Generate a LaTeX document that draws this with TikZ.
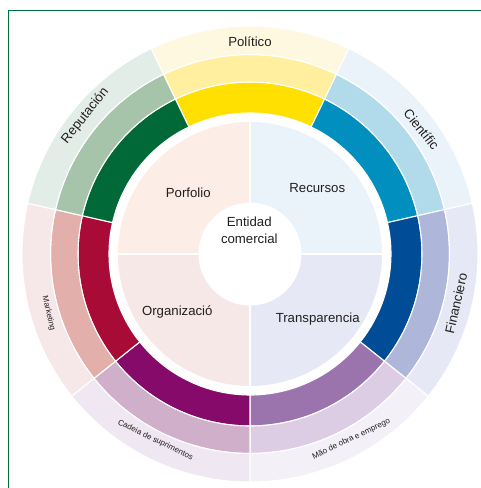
\documentclass[tikz,border=0pt]{standalone}
\usepackage{fontspec}
\setmainfont{Liberation Sans}
\usepackage{tikz}
\usetikzlibrary{positioning}

\definecolor{kuang}{HTML}{00703C}
\definecolor{zi}{HTML}{231F20}
% dark / middle / light ring colours, clockwise from the top
\definecolor{d0}{HTML}{FFE000}\definecolor{m0}{HTML}{FFEF9E}\definecolor{l0}{HTML}{FFF8E1}
\definecolor{d1}{HTML}{008FBE}\definecolor{m1}{HTML}{B1DAEA}\definecolor{l1}{HTML}{EAF3F9}
\definecolor{d2}{HTML}{004C97}\definecolor{m2}{HTML}{AEB7DA}\definecolor{l2}{HTML}{E6E9F5}
\definecolor{d3}{HTML}{9B74AE}\definecolor{m3}{HTML}{DCCDE4}\definecolor{l3}{HTML}{F3F0F8}
\definecolor{d4}{HTML}{850A69}\definecolor{m4}{HTML}{CFAFC9}\definecolor{l4}{HTML}{EFE7F1}
\definecolor{d5}{HTML}{A80C36}\definecolor{m5}{HTML}{E2AFAA}\definecolor{l5}{HTML}{F6E8E8}
\definecolor{d6}{HTML}{006937}\definecolor{m6}{HTML}{A5C4AA}\definecolor{l6}{HTML}{E3EDE8}
% quadrants
\definecolor{q1}{HTML}{FCEDE6}
\definecolor{q2}{HTML}{EAF3FA}
\definecolor{q3}{HTML}{F7E8E8}
\definecolor{q4}{HTML}{E6E9F5}

% ring piece: start angle, end angle, inner radius, outer radius, options
\newcommand{\shan}[5]{\path[#5] (#1:#3) arc[start angle=#1,end angle=#2,radius=#3] -- (#2:#4) arc[start angle=#2,end angle=#1,radius=#4] -- cycle;}

\begin{document}
\begin{tikzpicture}[x=1pt,y=1pt]
\tikzset{basic/.style={text=zi, align=center, inner sep=1pt}}
\tikzset{da/.style={basic, font=\fontsize{13.2}{17}\selectfont}}
\tikzset{xiao/.style={basic, font=\fontsize{8}{9}\selectfont}}
\tikzset{bian/.style={draw=white, line width=1.1pt}}
\tikzset{kuangxian/.style={draw=kuang, line width=1pt}}

\useasboundingbox (-250,-234) rectangle (231,254);
\path[kuangxian] (-241,-234) -- (-241,243.7) -- (231,243.7);

% inner quadrants
\fill[q2] (0,0) -- (0:132) arc[start angle=0,end angle=90,radius=132] -- cycle;
\fill[q1] (0,0) -- (90:132) arc[start angle=90,end angle=180,radius=132] -- cycle;
\fill[q3] (0,0) -- (180:132) arc[start angle=180,end angle=270,radius=132] -- cycle;
\fill[q4] (0,0) -- (270:132) arc[start angle=270,end angle=360,radius=132] -- cycle;
\draw[bian] (-132,0) -- (132,0);
\draw[bian] (0,-132) -- (0,132);
\fill[white] (0,0) circle (51.5);

% dark ring
\shan{64.29}{115.71}{141}{172}{bian,fill=d0}
\shan{12.86}{64.29}{141}{172}{bian,fill=d1}
\shan{-38.57}{12.86}{141}{172}{bian,fill=d2}
\shan{-90}{-38.57}{141}{172}{bian,fill=d3}
\shan{-141.43}{-90}{141}{172}{bian,fill=d4}
\shan{-192.86}{-141.43}{141}{172}{bian,fill=d5}
\shan{115.71}{167.14}{141}{172}{bian,fill=d6}

% middle ring
\shan{64.29}{115.71}{172}{199.5}{bian,fill=m0}
\shan{12.86}{64.29}{172}{199.5}{bian,fill=m1}
\shan{-38.57}{12.86}{172}{199.5}{bian,fill=m2}
\shan{-90}{-38.57}{172}{199.5}{bian,fill=m3}
\shan{-141.43}{-90}{172}{199.5}{bian,fill=m4}
\shan{-192.86}{-141.43}{172}{199.5}{bian,fill=m5}
\shan{115.71}{167.14}{172}{199.5}{bian,fill=m6}

% outer ring
\shan{64.29}{115.71}{199.5}{228}{bian,fill=l0}
\shan{12.86}{64.29}{199.5}{228}{bian,fill=l1}
\shan{-38.57}{12.86}{199.5}{228}{bian,fill=l2}
\shan{-90}{-38.57}{199.5}{228}{bian,fill=l3}
\shan{-141.43}{-90}{199.5}{228}{bian,fill=l4}
\shan{-192.86}{-141.43}{199.5}{228}{bian,fill=l5}
\shan{115.71}{167.14}{199.5}{228}{bian,fill=l6}

\node[da](00)at(-0.7,23.5){Entidad\\comercial};
\node[da](11)at(-61.7,61.3){Porfolio};
\node[da](12)at(67.3,65.7){Recursos};
\node[da](13)at(-72.7,-57.7){Organizació};
\node[da](14)at(67.7,-65.3){Transparencia};

\node[da](30)at(90:212){Político};
\node[da, rotate=-51.43](31)at(36:212){Científic};
\node[da, rotate=77.14](32)at(-13.5:212){Financiero};
\node[xiao, rotate=25.71](33)at(-61.3:211){Mão de obra e emprego};
\node[xiao, rotate=-25.71](34)at(243.1:209){Cadeia de suprimentos};
\node[xiao, rotate=-77.14](35)at(196.5:210){Marketing};
\node[da, rotate=51.43](36)at(140:215){Reputación};
\end{tikzpicture}
\end{document}
